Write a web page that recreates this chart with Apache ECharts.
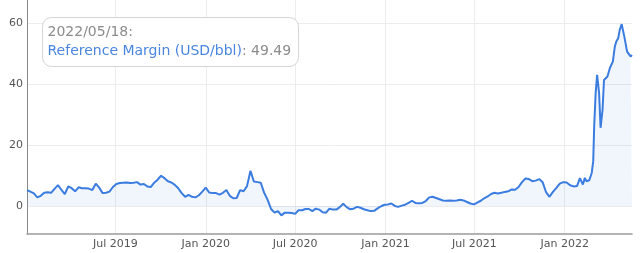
<!DOCTYPE html>
<html>
<head>
<meta charset="utf-8">
<script src="https://cdn.jsdelivr.net/npm/echarts@6/dist/echarts.min.js"></script>
<style>
html,body{margin:0;padding:0;background:#fff;}
#c{width:640px;height:253px;}
</style>
</head>
<body>
<div id="c"></div>
<script>
// Weekly values (Wednesdays) from 2019-01-02 through 2022-01-26
const weeklyStart = '2019-01-02';
const weeklyValues = [
  5.2, 4.7, 4.1, 2.8, 3.3, 4.3, 4.5, 4.3, 5.6, 6.8,
  5.3, 3.9, 6.4, 5.8, 4.8, 6.1, 5.8, 5.8, 5.7, 5.2,
  7.3, 6.0, 4.2, 4.3, 4.7, 6.2, 7.2, 7.5, 7.6, 7.7,
  7.5, 7.6, 7.8, 7.0, 7.2, 6.4, 6.2, 7.6, 8.6, 9.9,
  9.1, 8.1, 7.7, 6.9, 5.8, 4.2, 3.0, 3.6, 3.0, 2.8,
  3.5, 4.7, 6.0, 4.4, 4.2, 4.2, 3.7, 4.3, 5.2, 3.3,
  2.5, 2.6, 5.2, 4.8, 6.5, 11.5, 8.0, 7.8, 7.6, 4.3,
  2.0, -1.0, -2.2, -1.7, -3.1, -2.2, -2.2, -2.3, -2.6, -1.4,
  -1.4, -1.0, -1.0, -1.7, -0.9, -1.2, -2.1, -2.2, -0.9, -1.2,
  -1.2, -0.4, 0.7, -0.4, -1.1, -0.9, -0.3, -0.6, -1.1, -1.4,
  -1.7, -1.6, -0.8, -0.1, 0.4, 0.5, 0.8, 0.0, -0.3, 0.1,
  0.4, 1.0, 1.7, 1.0, 0.9, 1.0, 1.6, 2.8, 3.0, 2.6,
  2.2, 1.8, 1.7, 1.8, 1.7, 1.8, 2.0, 1.8, 1.3, 0.8,
  0.5, 1.1, 1.7, 2.5, 3.1, 3.9, 4.3, 4.1, 4.3, 4.6,
  4.8, 5.4, 5.3, 6.2, 7.8, 9.0, 8.8, 8.1, 8.3, 8.8,
  7.8, 4.5, 3.0, 4.6, 5.9, 7.3, 7.8, 7.7, 6.8, 6.4,
  6.5
];
// Denser readings for Feb–May 2022
const tailDates = [
  '2022-02-01','2022-02-04','2022-02-07','2022-02-11','2022-02-14','2022-02-20',
  '2022-02-25','2022-02-28','2022-03-02','2022-03-05','2022-03-08','2022-03-12',
  '2022-03-15','2022-03-19','2022-03-22','2022-03-26','2022-03-29','2022-04-03',
  '2022-04-06','2022-04-09','2022-04-13','2022-04-16','2022-04-20','2022-04-23',
  '2022-04-27','2022-04-30','2022-05-03','2022-05-08','2022-05-12','2022-05-15',
  '2022-05-18'
];
const tailValues = [
  9.1, 8.7, 7.0, 9.2, 8.1, 8.4,
  10.8, 14.6, 26.1, 37.0, 43.0, 37.0,
  25.6, 31.5, 41.3, 41.9, 42.4, 45.2,
  45.7, 47.3, 52.2, 53.9, 55.0, 57.7,
  59.6, 59.3, 55.0, 50.6, 51.1, 49.0,
  49.49
];
const xTickDates = ['2019-07-01','2020-01-01','2020-07-01','2021-01-01','2021-07-01','2022-01-01'];
const xTickLabels = ['Jul 2019','Jan 2020','Jul 2020','Jan 2021','Jul 2021','Jan 2022'];
const yTicks = [0, 20, 40, 60];
const seriesName = 'Reference Margin (USD/bbl)';
const tipDate = '2022/05/18:';
const tipValue = '49.49';

function parseLocal(s){ const p = s.split('-').map(Number); return new Date(p[0], p[1]-1, p[2]).getTime(); }
const data = [];
const t0 = parseLocal(weeklyStart);
weeklyValues.forEach((v, i) => {
  const d = new Date(t0); d.setDate(d.getDate() + 7 * i);
  data.push([d.getTime(), v]);
});
tailDates.forEach((s, i) => data.push([parseLocal(s), tailValues[i]]));

const xTickVals = xTickDates.map(parseLocal);
function xLabel(v){
  let best = '', bd = Infinity;
  xTickVals.forEach((t, i) => { const d = Math.abs(t - v); if (d < bd) { bd = d; best = xTickLabels[i]; } });
  return bd < 86400000 ? best : '';
}

const chart = echarts.init(document.getElementById('c'), null, {renderer: 'canvas'});
const FONT = '"DejaVu Sans", Verdana, sans-serif';
chart.setOption({
  animation: false,
  grid: {left: 27, right: 8, top: 0, bottom: 19, containLabel: false},
  xAxis: {
    type: 'value',
    min: parseLocal('2019-01-02'),
    max: parseLocal('2022-05-18'),
    axisLine: {show: true, onZero: false, lineStyle: {color: '#9a9a9a', width: 1.5}},
    axisTick: {show: false, customValues: xTickVals},
    axisLabel: {
      customValues: xTickVals,
      formatter: v => xLabel(v),
      color: '#555', fontSize: 11, fontFamily: FONT, margin: 5
    },
    splitLine: {show: true, lineStyle: {color: '#ececec', width: 1}}
  },
  yAxis: {
    type: 'value',
    min: -9.2,
    max: 67.5,
    axisLine: {show: true, lineStyle: {color: '#8a8a8a', width: 1}},
    axisTick: {show: false, customValues: yTicks},
    axisLabel: {customValues: yTicks, color: '#555', fontSize: 11, fontFamily: FONT, margin: 4},
    splitLine: {show: true, lineStyle: {color: '#ececec', width: 1}}
  },
  series: [{
    name: seriesName,
    type: 'line',
    data: data,
    showSymbol: false,
    symbol: 'none',
    lineStyle: {color: '#3b7ce0', width: 2},
    itemStyle: {color: '#3b7ce0'},
    areaStyle: {color: 'rgba(59,124,224,0.10)'}
  }],
  graphic: [{
    type: 'group',
    left: 42, top: 17,
    z: 100,
    children: [{
      type: 'rect',
      z: 100,
      shape: {x: 0, y: 0, width: 256, height: 49, r: 9},
      style: {fill: '#ffffff', stroke: '#d4d4d4', lineWidth: 1}
    }, {
      type: 'text',
      z: 101,
      x: 5, y: 5,
      style: {
        text: '{d|' + tipDate + '}\n{n|' + seriesName + '}{v|: ' + tipValue + '}',
        fill: '#8c8c8c',
        fontSize: 14,
        fontFamily: FONT,
        rich: {
          d: {fontSize: 14, fontFamily: FONT, fill: '#8c8c8c', lineHeight: 19},
          n: {fontSize: 14, fontFamily: FONT, fill: '#4a86e0', lineHeight: 19},
          v: {fontSize: 14, fontFamily: FONT, fill: '#8c8c8c', lineHeight: 19}
        }
      }
    }]
  }]
});
</script>
</body>
</html>
